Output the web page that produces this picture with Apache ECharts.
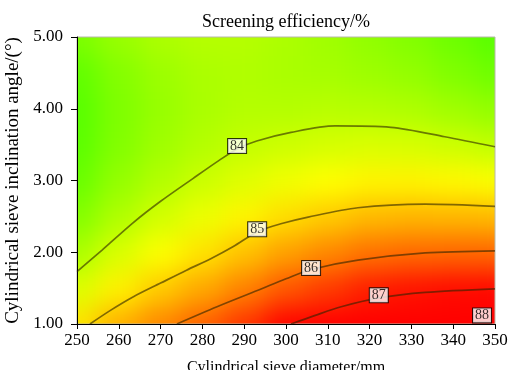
<!DOCTYPE html>
<html><head><meta charset="utf-8">
<script src="https://cdn.jsdelivr.net/npm/echarts@6/dist/echarts.min.js"></script>
<style>
html,body{margin:0;padding:0;background:#fff;}
#wrap{position:relative;width:518px;height:370px;overflow:hidden;}
#bg,#main{position:absolute;left:0;top:0;width:518px;height:370px;}
#bg{filter:blur(13px);}
</style></head><body>
<div id="wrap"><div id="bg"></div><div id="main"></div></div>
<script>
// ---- data ----
const diameters = [250, 260, 270, 280, 290, 300, 310, 320, 330, 340, 350];
const angles = [1.0, 1.5, 2.0, 2.5, 3.0, 3.5, 4.0, 4.5, 5.0];
// screening efficiency (%) at each angle row (bottom to top), per diameter
const effAt1_0 = [84.84, 85.33, 85.73, 86.09, 86.51, 87.00, 87.32, 87.66, 87.81, 87.92, 88.00];
const effAt1_5 = [84.24, 84.70, 85.08, 85.41, 85.78, 86.19, 86.46, 86.74, 86.85, 86.92, 86.96];
const effAt2_0 = [83.75, 84.20, 84.55, 84.84, 85.16, 85.49, 85.72, 85.93, 86.01, 86.04, 86.04];
const effAt2_5 = [83.38, 83.80, 84.13, 84.39, 84.66, 84.90, 85.08, 85.24, 85.28, 85.27, 85.23];
const effAt3_0 = [83.12, 83.53, 83.83, 84.06, 84.27, 84.43, 84.57, 84.66, 84.67, 84.62, 84.54];
const effAt3_5 = [82.98, 83.36, 83.64, 83.84, 84.00, 84.08, 84.16, 84.20, 84.17, 84.08, 83.97];
const effAt4_0 = [82.95, 83.32, 83.56, 83.74, 83.84, 83.84, 83.88, 83.85, 83.78, 83.65, 83.51];
const effAt4_5 = [83.04, 83.38, 83.61, 83.75, 83.80, 83.74, 83.71, 83.62, 83.52, 83.34, 83.16];
const effAt5_0 = [83.30, 83.57, 83.76, 83.85, 83.85, 83.76, 83.65, 83.50, 83.36, 83.15, 82.95];
const effRows = [effAt1_0, effAt1_5, effAt2_0, effAt2_5, effAt3_0, effAt3_5, effAt4_0, effAt4_5, effAt5_0];

// contour lines [diameter, angle]
const contour84 = [[250,1.73],[256,2.03],[263.4,2.41],[270,2.71],[277.8,3.03],[284,3.28],[288.3,3.44],[293,3.55],[301.2,3.67],[311.7,3.76],[325.1,3.74],[338.0,3.61],[350,3.47]];
const contour85 = [[253.1,1.0],[258,1.19],[263.5,1.38],[270,1.57],[276.2,1.75],[282,1.91],[287.4,2.08],[293.3,2.29],[299,2.40],[305.3,2.49],[317.2,2.62],[333.3,2.67],[350,2.64]];
const contour86 = [[273.9,1.0],[283.5,1.24],[293.3,1.47],[300,1.63],[306.0,1.76],[317.2,1.89],[333.3,1.99],[350,2.02]];
const contour87 = [[301.2,1.0],[307,1.12],[313.2,1.24],[322.0,1.36],[333.3,1.44],[350,1.49]];
// contour labels [diameter, angle, level]
const contourLabels = [[288.3,3.48,84],[293.1,2.32,85],[306.0,1.78,86],[322.2,1.40,87],[346.9,1.12,88]];

const GRID = {left:77, right:23, top:37, bottom:46, outerBoundsMode:'none'};
const FONT = '"Liberation Serif","Times New Roman",serif';

// ---- background colour field (blurred so the cells blend smoothly) ----
const bgEl = document.getElementById('bg');
bgEl.style.clipPath = `inset(${GRID.top}px ${GRID.right}px ${GRID.bottom}px ${GRID.left}px)`;
const cells = [];
angles.forEach((a, j) => diameters.forEach((d, i) => cells.push([d, a, effRows[j][i]])));
const bg = echarts.init(bgEl, null, {renderer:'canvas'});
bg.setOption({
  animation:false,
  grid:Object.assign({}, GRID),
  xAxis:{type:'value', min:250, max:350, show:false},
  yAxis:{type:'value', min:1, max:5, show:false},
  visualMap:{show:false, type:'continuous', min:82.1, max:89.5, dimension:2, seriesIndex:0,
    inRange:{color:['#00ff00','#ffff00','#ff0000','#ff0000']}},
  series:[{
    type:'custom', clip:false, data:cells, encode:{x:0, y:1},
    renderItem:(params, api) => {
      const d = api.value(0), a = api.value(1);
      const p0 = api.coord([d - 5, a + 0.25]);
      const p1 = api.coord([d + 5, a - 0.25]);
      let x0 = p0[0], y0 = p0[1], x1 = p1[0], y1 = p1[1];
      const ext = 80;
      if (d === diameters[0]) x0 -= ext;
      if (d === diameters[diameters.length-1]) x1 += ext;
      if (a === angles[angles.length-1]) y0 -= ext;
      if (a === angles[0]) y1 += ext;
      return {type:'rect', shape:{x:x0, y:y0, width:x1-x0+1, height:y1-y0+1},
              style:{fill:api.visual('color')}};
    }
  }]
});

// ---- foreground: axes, contour lines, labels ----
const main = echarts.init(document.getElementById('main'), null, {renderer:'canvas'});
const lineStyle = {color:'rgba(45,35,0,0.6)', width:1.7};
function contourSeries(data){
  return {type:'line', data:data, smooth:0.3, showSymbol:false, symbol:'none',
          lineStyle:lineStyle, silent:true, z:3};
}
main.setOption({
  animation:false,
  backgroundColor:'transparent',
  title:{text:'Screening efficiency/%', left:GRID.left + (518-GRID.left-GRID.right)/2, textAlign:'center',
    top:13, padding:0, textStyle:{fontFamily:FONT, fontSize:18, fontWeight:'normal', color:'#000'}},
  grid:Object.assign({show:true, borderColor:'#b8b8a8', borderWidth:1, backgroundColor:'transparent'}, GRID),
  xAxis:{type:'value', min:250, max:350, interval:10,
    name:'Cylindrical sieve diameter/mm', nameLocation:'middle', nameGap:36,
    nameTextStyle:{fontFamily:FONT, fontSize:16, color:'#000'},
    axisLine:{show:true, onZero:false, lineStyle:{color:'#000', width:1}},
    axisTick:{show:true, inside:false, length:5, lineStyle:{color:'#000'}},
    axisLabel:{fontFamily:FONT, fontSize:17, color:'#000', margin:8},
    splitLine:{show:false}},
  yAxis:{type:'value', min:1, max:5, interval:1,
    name:'Cylindrical sieve inclination angle/(°)', nameLocation:'middle', nameGap:54,
    nameTextStyle:{fontFamily:FONT, fontSize:19, color:'#000'},
    axisLine:{show:true, onZero:false, lineStyle:{color:'#000', width:1}},
    axisTick:{show:true, inside:false, length:6, lineStyle:{color:'#000'}},
    axisLabel:{fontFamily:FONT, fontSize:17, color:'#000', margin:14, formatter:v => v.toFixed(2)},
    splitLine:{show:false}},
  series:[
    contourSeries(contour84), contourSeries(contour85), contourSeries(contour86), contourSeries(contour87),
    {type:'scatter', data:contourLabels, symbolSize:0, silent:true, z:5,
      label:{show:true, position:'inside', formatter:p => String(p.value[2]),
        fontFamily:FONT, fontSize:14, color:'#000', backgroundColor:'#fff',
        borderColor:'#000', borderWidth:1, padding:[0,2,0,2]}}
  ]
});
</script>
</body></html>
